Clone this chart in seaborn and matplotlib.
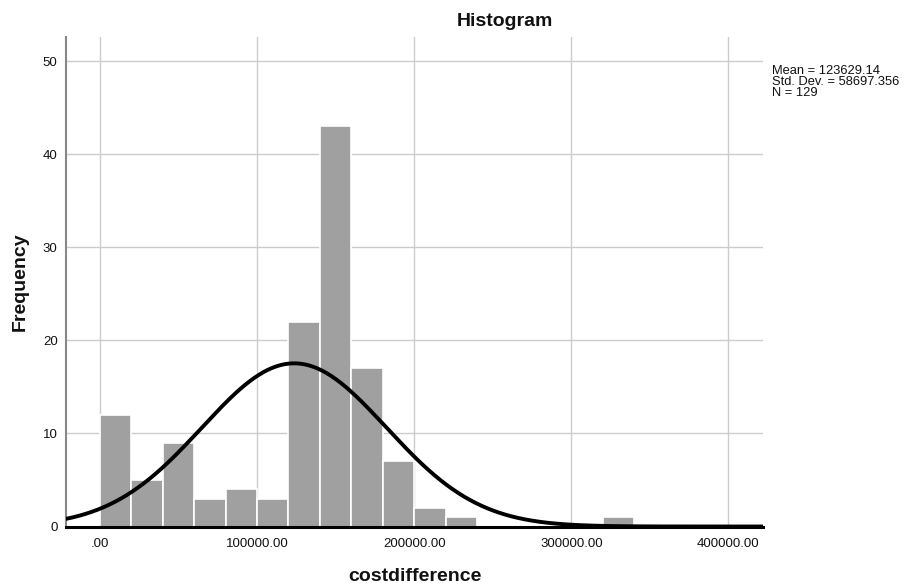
import numpy as np
import pandas as pd
import matplotlib
matplotlib.use("Agg")
import matplotlib.pyplot as plt
import seaborn as sns

# Histogram of cost differences (bin width 20000)
bin_width = 20000
bin_starts = [0, 20000, 40000, 60000, 80000, 100000, 120000, 140000, 160000,
              180000, 200000, 220000, 240000, 260000, 280000, 300000, 320000]
counts = [12, 5, 9, 3, 4, 3, 22, 43, 17, 7, 2, 1, 0, 0, 0, 0, 1]
mean = 123629.14
std_dev = 58697.356
n_obs = 129
x_ticks = [0, 100000, 200000, 300000, 400000]
x_tick_labels = [".00", "100000.00", "200000.00", "300000.00", "400000.00"]
y_ticks = [0, 10, 20, 30, 40, 50]

sns.set_theme(style="white")
plt.rcParams["font.family"] = ["Liberation Sans", "DejaVu Sans"]

fig = plt.figure(figsize=(9.05, 5.83), dpi=100)
ax = fig.add_axes([0.0729, 0.0969, 0.7702, 0.8396])

df = pd.DataFrame({"value": [s + bin_width / 2 for s in bin_starts], "count": counts})
sns.histplot(data=df, x="value", weights="count", binwidth=bin_width,
             binrange=(bin_starts[0], bin_starts[-1] + bin_width), ax=ax,
             color="#a0a0a0", edgecolor="white", linewidth=1.2, alpha=1.0, zorder=2)

# Fitted normal curve scaled to counts
xs = np.linspace(-21600, 422000, 600)
ys = n_obs * bin_width / (std_dev * np.sqrt(2 * np.pi)) * np.exp(-0.5 * ((xs - mean) / std_dev) ** 2)
sns.lineplot(x=xs, y=ys, ax=ax, color="black", linewidth=2.8, zorder=3)

ax.set_xlim(-21600, 422000)
ax.set_ylim(0, 52.6)
ax.set_xticks(x_ticks)
ax.set_xticklabels(x_tick_labels)
ax.set_yticks(y_ticks)
ax.grid(True, color="#cccccc", linewidth=1.0, zorder=0)
ax.set_axisbelow(True)
ax.tick_params(axis="both", length=0, labelsize=9.5, colors="#111111")
ax.tick_params(axis="x", pad=8)
ax.tick_params(axis="y", pad=6)

for side in ["top", "right"]:
    ax.spines[side].set_visible(False)
ax.spines["bottom"].set_color("black")
ax.spines["bottom"].set_linewidth(2.2)
ax.spines["left"].set_color("#888888")
ax.spines["left"].set_linewidth(1.5)

ax.set_xlabel("costdifference", fontsize=14, fontweight="bold", labelpad=13, color="#111111")
ax.set_ylabel("Frequency", fontsize=14, fontweight="bold", labelpad=10, color="#111111")
fig.text(0.558, 0.963, "Histogram", ha="center", va="center", fontsize=14,
         fontweight="bold", color="#111111")

fig.text(0.853, 0.859,
         f"Mean = {mean:.2f}\nStd. Dev. = {std_dev:.3f}\nN = {n_obs}",
         ha="left", va="center", fontsize=9.3, linespacing=0.9, color="#111111")

fig.savefig("out.png", dpi=100, facecolor="white")
